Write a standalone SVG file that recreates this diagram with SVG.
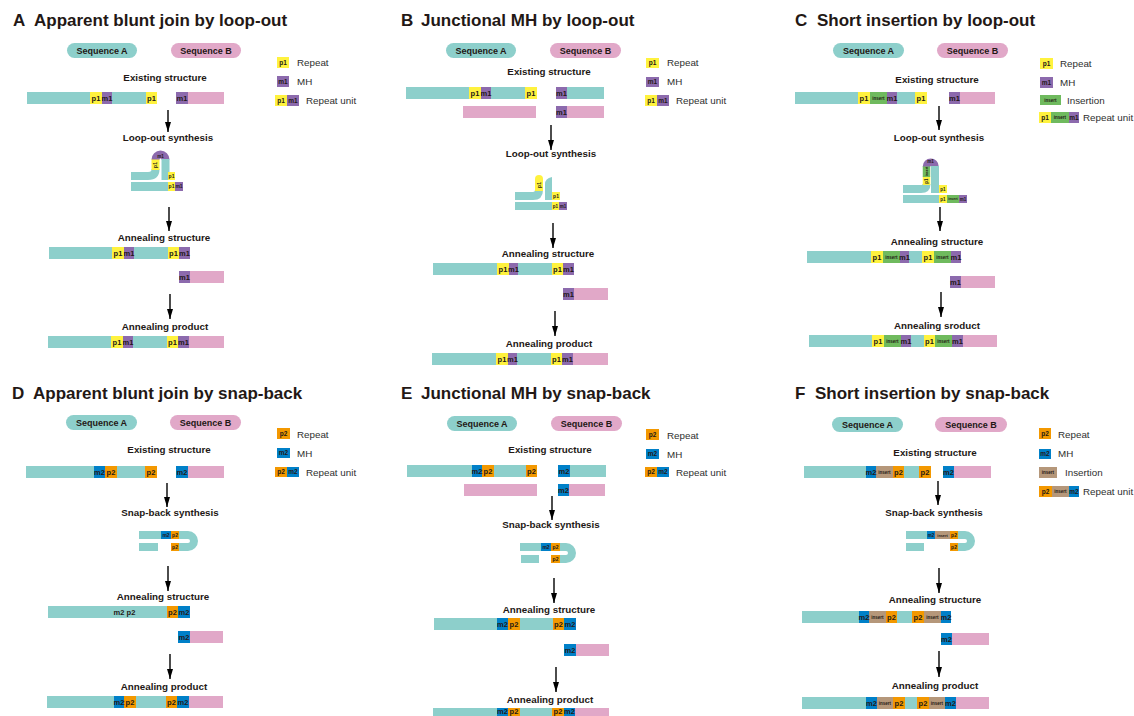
<svg xmlns="http://www.w3.org/2000/svg" width="1134" height="716" viewBox="0 0 1134 716">
<defs>
<marker id="ah" viewBox="0 0 10 10" refX="10" refY="5" markerWidth="10" markerHeight="6" markerUnits="userSpaceOnUse" orient="auto" preserveAspectRatio="none"><path d="M0,0 L10,5 L0,10 Z" fill="#000"/></marker>
</defs>
<style>
.cT{fill:#8DCFCB}.cK{fill:#E1A8C8}.cY{fill:#FFF23E}.cP{fill:#8C6AAD}.cO{fill:#F39800}.cB{fill:#0080C8}.cG{fill:#6FBA5E}.cN{fill:#B5977A}
.sT{stroke:#8DCFCB;fill:none}.sY{stroke:#FFF23E;fill:none}.sP{stroke:#8C6AAD;fill:none}
text{font-family:"Liberation Sans",Arial,Helvetica,sans-serif}
.ti{font-size:17px;font-weight:bold;fill:#231815}
.st{font-size:9.8px;font-weight:bold;fill:#231815;text-anchor:middle}
.sq{font-size:9px;font-weight:bold;fill:#231815;text-anchor:middle}
.lg{font-size:9.8px;fill:#2e2e2e}
.l{font-size:7.5px;font-weight:bold;fill:#231815;text-anchor:middle}
.lm{font-size:6.5px;font-weight:bold;fill:#231815;text-anchor:middle}
.s{font-size:5px;font-weight:bold;fill:#231815;text-anchor:middle}
.i{font-size:4.5px;font-weight:bold;fill:#231815;text-anchor:middle}
.ar{stroke:#000;stroke-width:1.4;fill:none;marker-end:url(#ah)}
</style>
<rect width="1134" height="716" fill="#fff"/>

<!-- ================= PANEL A ================= -->
<g id="A-title"><text class="ti" y="26"><tspan x="13">A</tspan><tspan x="34">Apparent blunt join by loop-out</tspan></text></g>
<g id="A-seqA"><rect class="cT" x="67" y="43" width="70" height="15" rx="7.5"/><text class="sq" x="102" y="53.7">Sequence A</text></g>
<g id="A-seqB"><rect class="cK" x="171" y="43" width="70" height="15" rx="7.5"/><text class="sq" x="206" y="53.7">Sequence B</text></g>
<g id="A-legend">
<rect class="cY" x="277" y="57" width="12" height="11"/><text class="lm" x="283" y="64.8">p1</text><text class="lg" x="297" y="66">Repeat</text>
<rect class="cP" x="277" y="76" width="12" height="11"/><text class="lm" x="283" y="83.8">m1</text><text class="lg" x="297" y="85">MH</text>
<rect class="cY" x="275" y="95" width="12" height="11"/><rect class="cP" x="287" y="95" width="12" height="11"/><text class="lm" x="281" y="102.8">p1</text><text class="lm" x="293" y="102.8">m1</text><text class="lg" x="306" y="104">Repeat unit</text>
</g>
<g id="A-existing">
<text class="st" x="165" y="81">Existing structure</text>
<rect class="cT" x="27" y="92" width="63" height="12"/><rect class="cY" x="90" y="92" width="12" height="12"/><rect class="cP" x="102" y="92" width="10" height="12"/><rect class="cT" x="112" y="92" width="34" height="12"/><rect class="cY" x="146" y="92" width="11" height="12"/>
<rect class="cP" x="176" y="92" width="12" height="12"/><rect class="cK" x="188" y="92" width="36" height="12"/>
<text class="l" x="96" y="100.6">p1</text><text class="l" x="107" y="100.6">m1</text><text class="l" x="151.5" y="100.6">p1</text><text class="l" x="182" y="100.6">m1</text>
</g>
<g id="A-loop">
<text class="st" x="168" y="141">Loop-out synthesis</text>
<rect class="cT" x="131" y="182" width="37" height="9"/><rect class="cY" x="168" y="182" width="7" height="9"/><rect class="cP" x="175" y="182" width="8" height="9"/>
<path class="sT" d="M131,176 H148 Q155.5,176 155.5,169" stroke-width="8"/>
<path class="sY" d="M155.5,170 V159" stroke-width="8"/>
<path class="sP" d="M155.5,159.5 A5,5 0 0 1 165.5,159.5" stroke-width="8"/>
<path class="sT" d="M165.5,159 V180" stroke-width="8"/>
<rect class="cY" x="168" y="172" width="7" height="8"/>
<text class="s" transform="translate(157.2,165) rotate(-90)">p1</text>
<text class="i" x="160.5" y="157.5">m1</text>
<text class="s" x="171.5" y="178">p1</text>
<text class="s" x="171.5" y="188.3">p1</text><text class="s" x="179" y="188.3">m1</text>
</g>
<g id="A-annealing">
<text class="st" x="164" y="241">Annealing structure</text>
<rect class="cT" x="49" y="247" width="63" height="12"/><rect class="cY" x="112" y="247" width="12" height="12"/><rect class="cP" x="124" y="247" width="10" height="12"/><rect class="cT" x="134" y="247" width="34" height="12"/><rect class="cY" x="168" y="247" width="11" height="12"/><rect class="cP" x="179" y="247" width="11" height="12"/>
<text class="l" x="118" y="255.6">p1</text><text class="l" x="129" y="255.6">m1</text><text class="l" x="173.5" y="255.6">p1</text><text class="l" x="184.5" y="255.6">m1</text>
<rect class="cP" x="179" y="271" width="11" height="12"/><rect class="cK" x="190" y="271" width="34" height="12"/><text class="l" x="184.5" y="279.6">m1</text>
</g>
<g id="A-product">
<text class="st" x="165" y="330">Annealing product</text>
<rect class="cT" x="48" y="336" width="63" height="12"/><rect class="cY" x="111" y="336" width="12" height="12"/><rect class="cP" x="123" y="336" width="10" height="12"/><rect class="cT" x="133" y="336" width="34" height="12"/><rect class="cY" x="167" y="336" width="11" height="12"/><rect class="cP" x="178" y="336" width="11" height="12"/><rect class="cK" x="189" y="336" width="35" height="12"/>
<text class="l" x="117" y="344.6">p1</text><text class="l" x="128" y="344.6">m1</text><text class="l" x="172.5" y="344.6">p1</text><text class="l" x="183.5" y="344.6">m1</text>
</g>

<!-- ================= PANEL B ================= -->
<g id="B-title"><text class="ti" y="26"><tspan x="401">B</tspan><tspan x="421">Junctional MH by loop-out</tspan></text></g>
<g id="B-seqA"><rect class="cT" x="446" y="43" width="70" height="15" rx="7.5"/><text class="sq" x="481" y="53.7">Sequence A</text></g>
<g id="B-seqB"><rect class="cK" x="550" y="43" width="71" height="15" rx="7.5"/><text class="sq" x="585.5" y="53.7">Sequence B</text></g>
<g id="B-legend">
<rect class="cY" x="646" y="58" width="13" height="10"/><text class="lm" x="652.5" y="65.3">p1</text><text class="lg" x="667" y="66">Repeat</text>
<rect class="cP" x="646" y="77" width="13" height="10"/><text class="lm" x="652.5" y="84.3">m1</text><text class="lg" x="667" y="85">MH</text>
<rect class="cY" x="645" y="95" width="12" height="11"/><rect class="cP" x="657" y="95" width="12" height="11"/><text class="lm" x="651" y="102.8">p1</text><text class="lm" x="663" y="102.8">m1</text><text class="lg" x="676" y="104">Repeat unit</text>
</g>
<g id="B-existing">
<text class="st" x="549" y="75">Existing structure</text>
<rect class="cT" x="406" y="87" width="63" height="12"/><rect class="cY" x="469" y="87" width="12" height="12"/><rect class="cP" x="481" y="87" width="10" height="12"/><rect class="cT" x="491" y="87" width="34" height="12"/><rect class="cY" x="525" y="87" width="12" height="12"/>
<rect class="cP" x="556" y="87" width="11" height="12"/><rect class="cT" x="567" y="87" width="37" height="12"/>
<text class="l" x="475" y="95.6">p1</text><text class="l" x="486" y="95.6">m1</text><text class="l" x="531" y="95.6">p1</text><text class="l" x="561.5" y="95.6">m1</text>
<rect class="cK" x="463" y="106" width="73" height="12"/><rect class="cP" x="556" y="106" width="11" height="12"/><rect class="cK" x="567" y="106" width="37" height="12"/>
<text class="l" x="561.5" y="114.6">m1</text>
</g>
<g id="B-loop">
<text class="st" x="551" y="157">Loop-out synthesis</text>
<rect class="cT" x="515" y="202" width="37" height="8"/><rect class="cY" x="552" y="202" width="7" height="8"/><rect class="cP" x="559" y="202" width="8" height="8"/>
<path class="sT" d="M515,196 H533 Q539,196 539,190" stroke-width="8"/>
<path class="cY" d="M535,191 V179 A4,4 0 0 1 543,179 V191 Z"/>
<path class="cT" d="M545,184 Q545,178.5 552,177 V200 H545 Z"/>
<rect class="cY" x="552" y="192" width="8" height="8"/>
<text class="s" transform="translate(540.8,185) rotate(-90)">p1</text>
<text class="s" x="556" y="197.8">p1</text>
<text class="i" x="555.5" y="207.6">p1</text><text class="i" x="563" y="207.6">m1</text>
</g>
<g id="B-annealing">
<text class="st" x="548" y="257">Annealing structure</text>
<rect class="cT" x="433" y="263" width="64" height="12"/><rect class="cY" x="497" y="263" width="12" height="12"/><rect class="cP" x="509" y="263" width="9" height="12"/><rect class="cT" x="518" y="263" width="34" height="12"/><rect class="cY" x="552" y="263" width="11" height="12"/><rect class="cP" x="563" y="263" width="11" height="12"/>
<text class="l" x="503" y="271.6">p1</text><text class="l" x="513.5" y="271.6">m1</text><text class="l" x="557.5" y="271.6">p1</text><text class="l" x="568.5" y="271.6">m1</text>
<rect class="cP" x="563" y="288" width="11" height="12"/><rect class="cK" x="574" y="288" width="34" height="12"/><text class="l" x="568.5" y="296.6">m1</text>
</g>
<g id="B-product">
<text class="st" x="549" y="347">Annealing product</text>
<rect class="cT" x="432" y="353" width="64" height="12"/><rect class="cY" x="496" y="353" width="12" height="12"/><rect class="cP" x="508" y="353" width="9" height="12"/><rect class="cT" x="517" y="353" width="34" height="12"/><rect class="cY" x="551" y="353" width="11" height="12"/><rect class="cP" x="562" y="353" width="11" height="12"/><rect class="cK" x="573" y="353" width="35" height="12"/>
<text class="l" x="502" y="361.6">p1</text><text class="l" x="512.5" y="361.6">m1</text><text class="l" x="556.5" y="361.6">p1</text><text class="l" x="567.5" y="361.6">m1</text>
</g>

<!-- ================= PANEL C ================= -->
<g id="C-title"><text class="ti" y="26"><tspan x="795">C</tspan><tspan x="817">Short insertion by loop-out</tspan></text></g>
<g id="C-seqA"><rect class="cT" x="833" y="43" width="71" height="15" rx="7.5"/><text class="sq" x="868.5" y="53.7">Sequence A</text></g>
<g id="C-seqB"><rect class="cK" x="937" y="43" width="71" height="15" rx="7.5"/><text class="sq" x="972.5" y="53.7">Sequence B</text></g>
<g id="C-legend">
<rect class="cY" x="1040" y="58" width="13" height="11"/><text class="lm" x="1046.5" y="65.8">p1</text><text class="lg" x="1060" y="67">Repeat</text>
<rect class="cP" x="1040" y="77" width="13" height="11"/><text class="lm" x="1046.5" y="84.8">m1</text><text class="lg" x="1060" y="85.5">MH</text>
<rect class="cG" x="1040" y="95" width="21" height="10"/><text class="i" x="1050.5" y="101.5">insert</text><text class="lg" x="1067" y="103.5">Insertion</text>
<rect class="cY" x="1039" y="112" width="12" height="11"/><rect class="cG" x="1051" y="112" width="18" height="11"/><rect class="cP" x="1069" y="112" width="10" height="11"/>
<text class="lm" x="1045" y="119.8">p1</text><text class="i" x="1060" y="119">insert</text><text class="lm" x="1074" y="119.8">m1</text><text class="lg" x="1083" y="121">Repeat unit</text>
</g>
<g id="C-existing">
<text class="st" x="937" y="83">Existing structure</text>
<rect class="cT" x="795" y="92" width="63" height="12"/><rect class="cY" x="858" y="92" width="12" height="12"/><rect class="cG" x="870" y="92" width="17" height="12"/><rect class="cP" x="887" y="92" width="10" height="12"/><rect class="cT" x="897" y="92" width="18" height="12"/><rect class="cY" x="915" y="92" width="12" height="12"/>
<rect class="cP" x="949" y="92" width="11" height="12"/><rect class="cK" x="960" y="92" width="35" height="12"/>
<text class="l" x="864" y="100.6">p1</text><text class="i" x="878.5" y="99.6">insert</text><text class="l" x="892" y="100.6">m1</text><text class="l" x="921" y="100.6">p1</text><text class="l" x="954.5" y="100.6">m1</text>
</g>
<g id="C-loop">
<text class="st" x="939" y="141">Loop-out synthesis</text>
<rect class="cT" x="903" y="195" width="36" height="8"/><rect class="cY" x="939" y="195" width="8" height="8"/><rect class="cG" x="947" y="195" width="12" height="8"/><rect class="cP" x="959" y="195" width="8" height="8"/>
<path class="sT" d="M903,189 H921 Q926.5,189 926.5,184" stroke-width="8"/>
<path class="sY" d="M926.5,185 V176.5" stroke-width="7.5"/>
<path stroke="#6FBA5E" fill="none" d="M926.5,177 V166" stroke-width="7.5"/>
<path class="sP" d="M926.5,166.5 A4.25,4.25 0 0 1 935,166.5" stroke-width="7.5"/>
<path class="sT" d="M935,166 V193" stroke-width="8"/>
<rect class="cY" x="939" y="185" width="8" height="8"/>
<text class="i" transform="translate(928.2,181) rotate(-90)">p1</text>
<text class="i" transform="translate(928,171.5) rotate(-90)" style="font-size:3.5px">insert</text>
<text class="i" x="930.5" y="163">m1</text>
<text class="i" x="943" y="190.6">p1</text>
<text class="i" x="943" y="200.6">p1</text><text class="i" x="953" y="200.3" style="font-size:3.5px">insert</text><text class="i" x="963" y="200.6">m1</text>
</g>
<g id="C-annealing">
<text class="st" x="937" y="245">Annealing structure</text>
<rect class="cT" x="807" y="251" width="64" height="12"/><rect class="cY" x="871" y="251" width="12" height="12"/><rect class="cG" x="883" y="251" width="17" height="12"/><rect class="cP" x="900" y="251" width="9" height="12"/><rect class="cT" x="909" y="251" width="13" height="12"/><rect class="cY" x="922" y="251" width="12" height="12"/><rect class="cG" x="934" y="251" width="17" height="12"/><rect class="cP" x="951" y="251" width="10" height="12"/>
<text class="l" x="877" y="259.6">p1</text><text class="i" x="891.5" y="258.6">insert</text><text class="l" x="904.5" y="259.6">m1</text><text class="l" x="928" y="259.6">p1</text><text class="i" x="942.5" y="258.6">insert</text><text class="l" x="956" y="259.6">m1</text>
<rect class="cP" x="950" y="276" width="11" height="12"/><rect class="cK" x="961" y="276" width="34" height="12"/><text class="l" x="955.5" y="284.6">m1</text>
</g>
<g id="C-product">
<text class="st" x="937" y="329">Annealing sroduct</text>
<rect class="cT" x="809" y="335" width="63" height="12"/><rect class="cY" x="872" y="335" width="12" height="12"/><rect class="cG" x="884" y="335" width="17" height="12"/><rect class="cP" x="901" y="335" width="10" height="12"/><rect class="cT" x="911" y="335" width="13" height="12"/><rect class="cY" x="924" y="335" width="11" height="12"/><rect class="cG" x="935" y="335" width="17" height="12"/><rect class="cP" x="952" y="335" width="11" height="12"/><rect class="cK" x="963" y="335" width="34" height="12"/>
<text class="l" x="878" y="343.6">p1</text><text class="i" x="892.5" y="342.6">insert</text><text class="l" x="906" y="343.6">m1</text><text class="l" x="929.5" y="343.6">p1</text><text class="i" x="943.5" y="342.6">insert</text><text class="l" x="957.5" y="343.6">m1</text>
</g>

<!-- ================= PANEL D ================= -->
<g id="D-title"><text class="ti" y="399"><tspan x="12">D</tspan><tspan x="33">Apparent blunt join by snap-back</tspan></text></g>
<g id="D-seqA"><rect class="cT" x="66" y="415" width="71" height="15" rx="7.5"/><text class="sq" x="101.5" y="425.7">Sequence A</text></g>
<g id="D-seqB"><rect class="cK" x="170" y="415" width="71" height="15" rx="7.5"/><text class="sq" x="205.5" y="425.7">Sequence B</text></g>
<g id="D-legend">
<rect class="cO" x="277" y="428" width="13" height="11"/><text class="lm" x="283.5" y="435.8">p2</text><text class="lg" x="297" y="438">Repeat</text>
<rect class="cB" x="277" y="448" width="13" height="10"/><text class="lm" x="283.5" y="455.3">m2</text><text class="lg" x="297" y="457">MH</text>
<rect class="cO" x="275" y="467" width="12" height="10"/><rect class="cB" x="287" y="467" width="12" height="10"/><text class="lm" x="281" y="474.3">p2</text><text class="lm" x="293" y="474.3">m2</text><text class="lg" x="306" y="475.5">Repeat unit</text>
</g>
<g id="D-existing">
<text class="st" x="169" y="453">Existing structure</text>
<rect class="cT" x="26" y="466" width="68" height="12"/><rect class="cB" x="94" y="466" width="11" height="12"/><rect class="cO" x="105" y="466" width="12" height="12"/><rect class="cT" x="117" y="466" width="28" height="12"/><rect class="cO" x="145" y="466" width="12" height="12"/>
<rect class="cB" x="176" y="466" width="12" height="12"/><rect class="cK" x="188" y="466" width="36" height="12"/>
<text class="l" x="99.5" y="474.6">m2</text><text class="l" x="111" y="474.6">p2</text><text class="l" x="151" y="474.6">p2</text><text class="l" x="182" y="474.6">m2</text>
</g>
<g id="D-snap">
<text class="st" x="170" y="516">Snap-back synthesis</text>
<rect class="cT" x="139" y="531" width="22" height="8"/><rect class="cB" x="161" y="531" width="10" height="8"/><rect class="cO" x="171" y="531" width="8" height="8"/>
<path class="sT" d="M179,535 H188 A6,6 0 0 1 188,547 H179" stroke-width="8"/>
<rect class="cT" x="139" y="543" width="19" height="8"/><rect class="cO" x="171" y="543" width="8" height="8"/>
<text class="s" x="166" y="536.8">m2</text><text class="s" x="175" y="536.8">p2</text><text class="s" x="175" y="548.8">p2</text>
</g>
<g id="D-annealing">
<text class="st" x="163" y="600">Annealing structure</text>
<rect class="cT" x="48" y="606" width="119" height="12"/><rect class="cO" x="167" y="606" width="11" height="12"/><rect class="cB" x="178" y="606" width="12" height="12"/>
<text class="l" x="119" y="614.6">m2</text><text class="l" x="131" y="614.6">p2</text><text class="l" x="172.5" y="614.6">p2</text><text class="l" x="184" y="614.6">m2</text>
<rect class="cB" x="178" y="631" width="12" height="12"/><rect class="cK" x="190" y="631" width="33" height="12"/><text class="l" x="184" y="639.6">m2</text>
</g>
<g id="D-product">
<text class="st" x="164" y="690">Annealing product</text>
<rect class="cT" x="47" y="696" width="67" height="12"/><rect class="cB" x="114" y="696" width="10" height="12"/><rect class="cO" x="124" y="696" width="12" height="12"/><rect class="cT" x="136" y="696" width="30" height="12"/><rect class="cO" x="166" y="696" width="11" height="12"/><rect class="cB" x="177" y="696" width="12" height="12"/><rect class="cK" x="189" y="696" width="34" height="12"/>
<text class="l" x="119" y="704.6">m2</text><text class="l" x="130" y="704.6">p2</text><text class="l" x="171.5" y="704.6">p2</text><text class="l" x="183" y="704.6">m2</text>
</g>

<!-- ================= PANEL E ================= -->
<g id="E-title"><text class="ti" y="399"><tspan x="401">E</tspan><tspan x="421">Junctional MH by snap-back</tspan></text></g>
<g id="E-seqA"><rect class="cT" x="447" y="416" width="70" height="15" rx="7.5"/><text class="sq" x="482" y="426.7">Sequence A</text></g>
<g id="E-seqB"><rect class="cK" x="551" y="416" width="71" height="15" rx="7.5"/><text class="sq" x="586.5" y="426.7">Sequence B</text></g>
<g id="E-legend">
<rect class="cO" x="646" y="429" width="13" height="11"/><text class="lm" x="652.5" y="436.8">p2</text><text class="lg" x="667" y="439">Repeat</text>
<rect class="cB" x="646" y="449" width="13" height="10"/><text class="lm" x="652.5" y="456.3">m2</text><text class="lg" x="667" y="457.5">MH</text>
<rect class="cO" x="645" y="467" width="12" height="10"/><rect class="cB" x="657" y="467" width="12" height="10"/><text class="lm" x="651" y="474.3">p2</text><text class="lm" x="663" y="474.3">m2</text><text class="lg" x="676" y="476">Repeat unit</text>
</g>
<g id="E-existing">
<text class="st" x="550" y="453">Existing structure</text>
<rect class="cT" x="407" y="465" width="65" height="12"/><rect class="cB" x="472" y="465" width="10" height="12"/><rect class="cO" x="482" y="465" width="12" height="12"/><rect class="cT" x="494" y="465" width="32" height="12"/><rect class="cO" x="526" y="465" width="11" height="12"/>
<rect class="cB" x="558" y="465" width="12" height="12"/><rect class="cT" x="570" y="465" width="36" height="12"/>
<text class="l" x="477" y="473.6">m2</text><text class="l" x="488" y="473.6">p2</text><text class="l" x="531.5" y="473.6">p2</text><text class="l" x="564" y="473.6">m2</text>
<rect class="cK" x="464" y="484" width="73" height="12"/><rect class="cB" x="558" y="484" width="11" height="12"/><rect class="cK" x="569" y="484" width="36" height="12"/>
<text class="l" x="563.5" y="492.6">m2</text>
</g>
<g id="E-snap">
<text class="st" x="551" y="528">Snap-back synthesis</text>
<rect class="cT" x="520" y="543" width="21" height="8"/><rect class="cB" x="541" y="543" width="10" height="8"/><rect class="cO" x="551" y="543" width="9" height="8"/>
<path class="sT" d="M560,547 H566 A6,6 0 0 1 566,559 H560" stroke-width="8"/>
<rect class="cT" x="521" y="555" width="18" height="8"/><rect class="cO" x="551" y="555" width="9" height="8"/>
<text class="s" x="546" y="548.8">m2</text><text class="s" x="555.5" y="548.8">p2</text><text class="s" x="555.5" y="560.8">p2</text>
</g>
<g id="E-annealing">
<text class="st" x="549" y="613">Annealing structure</text>
<rect class="cT" x="434" y="618" width="63" height="12"/><rect class="cB" x="497" y="618" width="11" height="12"/><rect class="cO" x="508" y="618" width="12" height="12"/><rect class="cT" x="520" y="618" width="33" height="12"/><rect class="cO" x="553" y="618" width="11" height="12"/><rect class="cB" x="564" y="618" width="12" height="12"/>
<text class="l" x="502.5" y="626.6">m2</text><text class="l" x="514" y="626.6">p2</text><text class="l" x="558.5" y="626.6">p2</text><text class="l" x="570" y="626.6">m2</text>
<rect class="cB" x="564" y="644" width="12" height="12"/><rect class="cK" x="576" y="644" width="33" height="12"/><text class="l" x="570" y="652.6">m2</text>
</g>
<g id="E-product">
<text class="st" x="550" y="703">Annealing product</text>
<rect class="cT" x="433" y="708" width="64" height="12"/><rect class="cB" x="497" y="708" width="11" height="12"/><rect class="cO" x="508" y="708" width="12" height="12"/><rect class="cT" x="520" y="708" width="32" height="12"/><rect class="cO" x="552" y="708" width="12" height="12"/><rect class="cB" x="564" y="708" width="11" height="12"/><rect class="cK" x="575" y="708" width="34" height="12"/>
<text class="l" x="502.5" y="714">m2</text><text class="l" x="514" y="714">p2</text><text class="l" x="558" y="714">p2</text><text class="l" x="569.5" y="714">m2</text>
</g>

<!-- ================= PANEL F ================= -->
<g id="F-title"><text class="ti" y="399"><tspan x="795">F</tspan><tspan x="815">Short insertion by snap-back</tspan></text></g>
<g id="F-seqA"><rect class="cT" x="832" y="417" width="71" height="15" rx="7.5"/><text class="sq" x="867.5" y="427.7">Sequence A</text></g>
<g id="F-seqB"><rect class="cK" x="935" y="417" width="72" height="15" rx="7.5"/><text class="sq" x="971" y="427.7">Sequence B</text></g>
<g id="F-legend">
<rect class="cO" x="1039" y="428" width="12" height="11"/><text class="lm" x="1045" y="435.8">p2</text><text class="lg" x="1058" y="438">Repeat</text>
<rect class="cB" x="1039" y="449" width="12" height="10"/><text class="lm" x="1045" y="456.3">m2</text><text class="lg" x="1058" y="457">MH</text>
<rect class="cN" x="1039" y="467" width="18" height="11"/><text class="i" x="1048" y="474">insert</text><text class="lg" x="1065" y="475.5">Insertion</text>
<rect class="cO" x="1039" y="486" width="13" height="11"/><rect class="cN" x="1052" y="486" width="17" height="11"/><rect class="cB" x="1069" y="486" width="10" height="11"/>
<text class="lm" x="1045.5" y="493.8">p2</text><text class="i" x="1060.5" y="493">insert</text><text class="lm" x="1074" y="493.8">m2</text><text class="lg" x="1083" y="494.5">Repeat unit</text>
</g>
<g id="F-existing">
<text class="st" x="935" y="456">Existing structure</text>
<rect class="cT" x="804" y="466" width="62" height="12"/><rect class="cB" x="866" y="466" width="10" height="12"/><rect class="cN" x="876" y="466" width="17" height="12"/><rect class="cO" x="893" y="466" width="11" height="12"/><rect class="cT" x="904" y="466" width="15" height="12"/><rect class="cO" x="919" y="466" width="12" height="12"/>
<rect class="cB" x="943" y="466" width="11" height="12"/><rect class="cK" x="954" y="466" width="37" height="12"/>
<text class="l" x="871" y="474.6">m2</text><text class="i" x="884.5" y="473.6">insert</text><text class="l" x="898.5" y="474.6">p2</text><text class="l" x="925" y="474.6">p2</text><text class="l" x="948.5" y="474.6">m2</text>
</g>
<g id="F-snap">
<text class="st" x="934" y="516">Snap-back synthesis</text>
<rect class="cT" x="906" y="531" width="21" height="8"/><rect class="cB" x="927" y="531" width="8" height="8"/><rect class="cN" x="935" y="531" width="15" height="8"/><rect class="cO" x="950" y="531" width="8" height="8"/>
<path class="sT" d="M958,535 H965 A6,6 0 0 1 965,547 H958" stroke-width="8"/>
<rect class="cT" x="906" y="543" width="18" height="8"/><rect class="cO" x="950" y="543" width="8" height="8"/>
<text class="i" x="931" y="536.6">m2</text><text class="i" x="942.5" y="536.6" style="font-size:3.8px">insert</text><text class="s" x="954" y="536.8">p2</text><text class="s" x="954" y="548.8">p2</text>
</g>
<g id="F-annealing">
<text class="st" x="935" y="603">Annealing structure</text>
<rect class="cT" x="802" y="611" width="57" height="12"/><rect class="cB" x="859" y="611" width="10" height="12"/><rect class="cN" x="869" y="611" width="17" height="12"/><rect class="cO" x="886" y="611" width="11" height="12"/><rect class="cT" x="897" y="611" width="15" height="12"/><rect class="cO" x="912" y="611" width="12" height="12"/><rect class="cN" x="924" y="611" width="17" height="12"/><rect class="cB" x="941" y="611" width="10" height="12"/>
<text class="l" x="864" y="619.6">m2</text><text class="i" x="877.5" y="618.6">insert</text><text class="l" x="891.5" y="619.6">p2</text><text class="l" x="918" y="619.6">p2</text><text class="i" x="932.5" y="618.6">insert</text><text class="l" x="946" y="619.6">m2</text>
<rect class="cB" x="941" y="633" width="11" height="12"/><rect class="cK" x="952" y="633" width="37" height="12"/><text class="l" x="946.5" y="641.6">m2</text>
</g>
<g id="F-product">
<text class="st" x="935" y="689">Annealing product</text>
<rect class="cT" x="802" y="697" width="64" height="12"/><rect class="cB" x="866" y="697" width="11" height="12"/><rect class="cN" x="877" y="697" width="16" height="12"/><rect class="cO" x="893" y="697" width="12" height="12"/><rect class="cT" x="905" y="697" width="12" height="12"/><rect class="cO" x="917" y="697" width="12" height="12"/><rect class="cN" x="929" y="697" width="16" height="12"/><rect class="cB" x="945" y="697" width="11" height="12"/><rect class="cK" x="956" y="697" width="33" height="12"/>
<text class="l" x="871.5" y="705.6">m2</text><text class="i" x="885" y="704.6">insert</text><text class="l" x="899" y="705.6">p2</text><text class="l" x="923" y="705.6">p2</text><text class="i" x="937" y="704.6">insert</text><text class="l" x="950.5" y="705.6">m2</text>
</g>

<!-- ================= CONNECTORS ================= -->
<g id="connectors">
<path class="ar" d="M168,110 V132"/><path class="ar" d="M169,207 V231"/><path class="ar" d="M170,294 V319"/>
<path class="ar" d="M551,125 V150"/><path class="ar" d="M553,223 V248"/><path class="ar" d="M555,311 V336"/>
<path class="ar" d="M939,106 V130"/><path class="ar" d="M940,207 V231"/><path class="ar" d="M941,292 V317"/>
<path class="ar" d="M167,483 V507"/><path class="ar" d="M168,566 V591"/><path class="ar" d="M170,654 V679"/>
<path class="ar" d="M552,496 V520"/><path class="ar" d="M554,578 V603"/><path class="ar" d="M556,667 V692"/>
<path class="ar" d="M938,481 V505"/><path class="ar" d="M939,568 V593"/><path class="ar" d="M939,651 V677"/>
</g>
</svg>
